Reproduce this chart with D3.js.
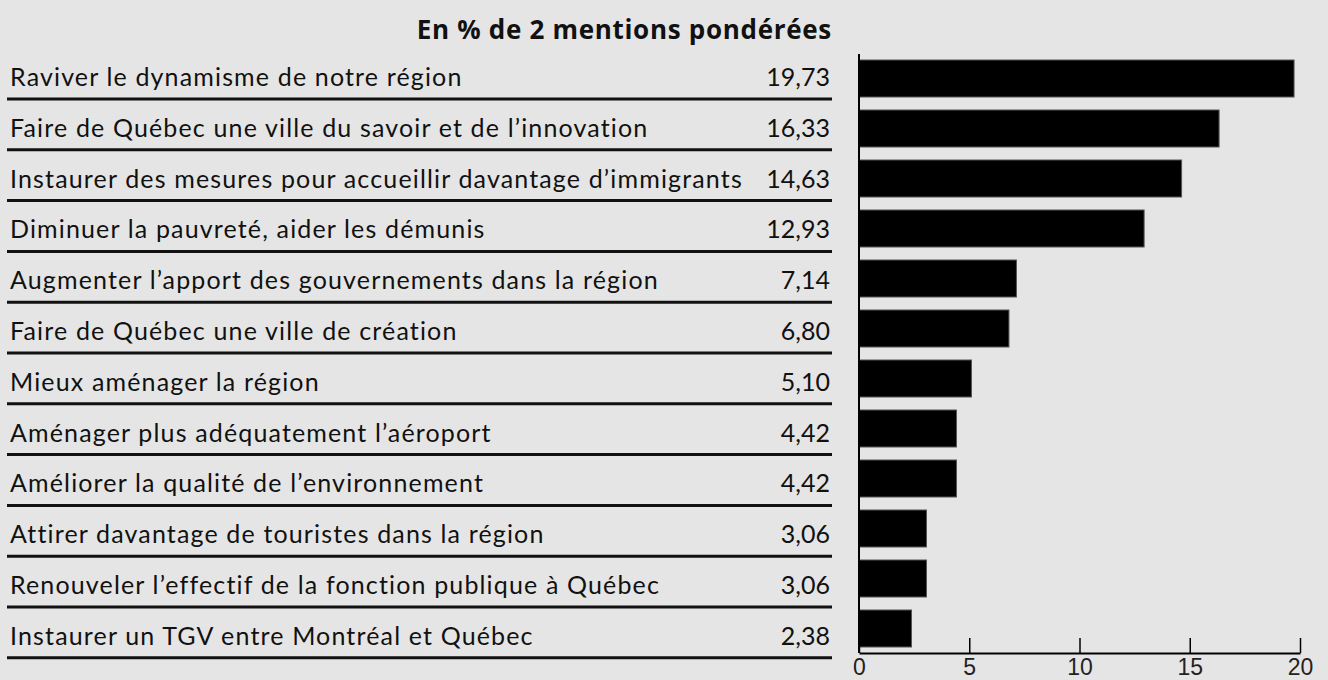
<!DOCTYPE html>
<html>
<head>
<meta charset="utf-8">
<script src="https://cdn.jsdelivr.net/npm/d3@7"></script>
<style>
  body { margin: 0; background: #e5e5e5; }
  svg { display: block; }
  .lbl { font-family: Lato, "Open Sans", sans-serif; font-size: 25px; letter-spacing: 1.15px; fill: #111; }
  .val { font-family: Lato, "Open Sans", sans-serif; font-size: 25px; fill: #111; }
  .title { font-family: "Open Sans", Lato, sans-serif; font-size: 26px; font-weight: bold; letter-spacing: 0.7px; fill: #111; }
  .x-axis text { font-family: "Liberation Sans", Arial, sans-serif; font-size: 23px; fill: #222; }
</style>
</head>
<body>
<div class="chart"></div>
<script>
// data
const categories = [
  'Raviver le dynamisme de notre région',
  'Faire de Québec une ville du savoir et de l\u2019innovation',
  'Instaurer des mesures pour accueillir davantage d\u2019immigrants',
  'Diminuer la pauvreté, aider les démunis',
  'Augmenter l\u2019apport des gouvernements dans la région',
  'Faire de Québec une ville de création',
  'Mieux aménager la région',
  'Aménager plus adéquatement l\u2019aéroport',
  'Améliorer la qualité de l\u2019environnement',
  'Attirer davantage de touristes dans la région',
  'Renouveler l\u2019effectif de la fonction publique à Québec',
  'Instaurer un TGV entre Montréal et Québec'
];
const values = [19.73, 16.33, 14.63, 12.93, 7.14, 6.80, 5.10, 4.42, 4.42, 3.06, 3.06, 2.38];
const tickValues = [0, 5, 10, 15, 20];
const title = 'En % de 2 mentions pondérées';

const width = 1328, height = 680;
const data = categories.map((c, i) => ({ name: c, value: values[i] }));

const svg = d3.select('.chart').append('svg')
  .attr('width', width)
  .attr('height', height);

svg.append('rect').attr('width', width).attr('height', height).attr('fill', '#e5e5e5');

// scales
const x = d3.scaleLinear().domain([0, 20]).range([859, 1300]);
const yBar = d3.scaleBand().domain(categories).range([53.5, 653.5])
  .paddingInner(0.26).paddingOuter(0.13);
const yRow = d3.scaleBand().domain(categories).range([48.2, 657.8]).padding(0);

const fmt = v => d3.format('.2f')(v).replace('.', ',');

// title
svg.append('text').attr('class', 'title')
  .attr('x', 832).attr('y', 39)
  .attr('text-anchor', 'end')
  .text(title);

// rows: label, value, rule
const rows = svg.selectAll('.row').data(data).enter().append('g').attr('class', 'row');

rows.append('line')
  .attr('x1', 7).attr('x2', 832)
  .attr('y1', d => yRow(d.name) + yRow.bandwidth())
  .attr('y2', d => yRow(d.name) + yRow.bandwidth())
  .attr('stroke', '#111').attr('stroke-width', 3);

rows.append('text').attr('class', 'lbl')
  .attr('x', 10)
  .attr('y', d => yRow(d.name) + yRow.bandwidth() - 13)
  .text(d => d.name);

rows.append('text').attr('class', 'val')
  .attr('x', 830)
  .attr('text-anchor', 'end')
  .attr('y', d => yRow(d.name) + yRow.bandwidth() - 13)
  .text(d => fmt(d.value));

// bars
svg.selectAll('.bar').data(data).enter().append('rect')
  .attr('class', 'bar')
  .attr('x', x(0))
  .attr('y', d => yBar(d.name))
  .attr('width', d => x(d.value) - x(0))
  .attr('height', yBar.bandwidth())
  .attr('fill', '#000')
  .attr('stroke', '#555')
  .attr('stroke-width', 1);

// axes
svg.append('line')
  .attr('x1', x(0)).attr('x2', x(0))
  .attr('y1', 54).attr('y2', 653)
  .attr('stroke', '#000').attr('stroke-width', 2);

const xAxis = svg.append('g').attr('class', 'x-axis')
  .attr('transform', 'translate(0,653)')
  .call(d3.axisBottom(x).tickValues(tickValues).tickFormat(d3.format('d'))
    .tickSize(-15).tickSizeOuter(0).tickPadding(6));
xAxis.select('.domain').attr('stroke', '#000').attr('stroke-width', 2);
xAxis.selectAll('.tick line').attr('stroke', '#000').attr('stroke-width', 1.5);
xAxis.selectAll('.tick text').attr('y', 6).attr('dy', '0.71em');
</script>
</body>
</html>
